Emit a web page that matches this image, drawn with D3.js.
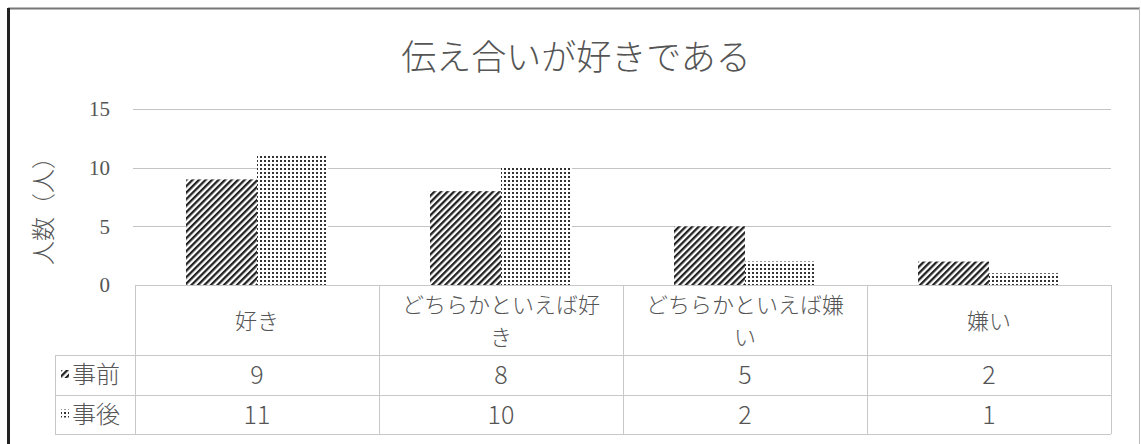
<!DOCTYPE html>
<html>
<head>
<meta charset="utf-8">
<script src="https://cdn.jsdelivr.net/npm/d3@7"></script>
<style>
  body { margin: 0; background: #fff; }
  svg { display: block; }
</style>
</head>
<body>
<svg id="chart" width="1141" height="444"></svg>
<script>
// data
const categories = ["好き", "どちらかといえば好き", "どちらかといえば嫌い", "嫌い"];
const seriesNames = ["事前", "事後"];
const before = [9, 8, 5, 2];
const after = [11, 10, 2, 1];
const yTicks = [0, 5, 10, 15];
const title = "伝え合いが好きである";
const yTitle = "人数（人）";

const svg = d3.select("#chart");
const jp = "'Noto Sans CJK JP', 'Noto Sans', sans-serif";
const ink = "#555";

// patterns
const defs = svg.append("defs");
const hatch = defs.append("pattern")
  .attr("id", "hatch").attr("patternUnits", "userSpaceOnUse")
  .attr("width", 4.6).attr("height", 4.6)
  .attr("patternTransform", "rotate(45)");
hatch.append("rect").attr("width", 4.6).attr("height", 4.6).attr("fill", "#fff");
hatch.append("rect").attr("width", 2.3).attr("height", 4.6).attr("fill", "#222");

const dots = defs.append("pattern")
  .attr("id", "dots").attr("patternUnits", "userSpaceOnUse")
  .attr("width", 4).attr("height", 4);
dots.append("rect").attr("width", 4).attr("height", 4).attr("fill", "#fff");
dots.append("rect").attr("width", 2).attr("height", 2).attr("fill", "#333");

const fills = ["url(#hatch)", "url(#dots)"];

// page frame
svg.append("rect").attr("width", 1141).attr("height", 444).attr("fill", "#fff");
svg.append("line").attr("x1", 8).attr("x2", 1140).attr("y1", 8.5).attr("y2", 8.5)
  .attr("stroke", "#777").attr("stroke-width", 2);
svg.append("line").attr("x1", 1139.5).attr("x2", 1139.5).attr("y1", 8).attr("y2", 444)
  .attr("stroke", "#bbb").attr("stroke-width", 1);
svg.append("line").attr("x1", 8.5).attr("x2", 8.5).attr("y1", 8).attr("y2", 444)
  .attr("stroke", "#222").attr("stroke-width", 3);

// title
svg.append("text")
  .attr("x", 576).attr("y", 70)
  .attr("text-anchor", "middle")
  .style("font-family", jp).style("font-weight", 300)
  .style("font-size", "35px").style("fill", ink)
  .text(title);

// scales
const x = d3.scaleBand().domain(categories).range([135, 1111]);
const x1 = d3.scaleBand().domain(seriesNames).range([51, 193]);
const y = d3.scaleLinear().domain([0, 15]).range([285, 109]);

// gridlines
svg.append("g").selectAll("line")
  .data(yTicks.filter(d => d > 0))
  .join("line")
  .attr("x1", 133).attr("x2", 1111)
  .attr("y1", d => Math.round(y(d)) + 0.5).attr("y2", d => Math.round(y(d)) + 0.5)
  .attr("stroke", "#c4c4c4").attr("stroke-width", 1);

// y axis labels
const yAxis = svg.append("g")
  .attr("transform", "translate(110,0)")
  .call(d3.axisLeft(y).tickValues(yTicks).tickSize(0).tickPadding(0));
yAxis.select(".domain").remove();
yAxis.selectAll("text")
  .style("font-family", "'Liberation Serif', 'DejaVu Serif', serif")
  .style("font-size", "21px").style("fill", ink);

svg.append("text")
  .attr("transform", "translate(52,205) rotate(-90)")
  .attr("text-anchor", "middle")
  .style("font-family", jp).style("font-weight", 300)
  .style("font-size", "24px").style("fill", ink)
  .text(yTitle);

// bars
const values = [before, after];
seriesNames.forEach((s, si) => {
  svg.append("g").selectAll("rect")
    .data(categories.map((c, i) => ({ c, v: values[si][i] })))
    .join("rect")
    .attr("x", d => x(d.c) + x1(s))
    .attr("width", x1.bandwidth())
    .attr("y", d => y(d.v))
    .attr("height", d => y(0) - y(d.v))
    .attr("fill", fills[si]);
});

// data table
const rowTop = [285, 355, 395, 434];
const tableLeft = 55;
const grid = svg.append("g").attr("stroke", "#c8c8c8").attr("stroke-width", 1).attr("fill", "none");
grid.append("line").attr("x1", 135).attr("x2", 1111).attr("y1", rowTop[0] + 0.5).attr("y2", rowTop[0] + 0.5);
rowTop.slice(1).forEach(r => {
  grid.append("line").attr("x1", tableLeft).attr("x2", 1111).attr("y1", r + 0.5).attr("y2", r + 0.5);
});
grid.append("line").attr("x1", tableLeft + 0.5).attr("x2", tableLeft + 0.5).attr("y1", rowTop[1]).attr("y2", rowTop[3]);
categories.forEach(c => {
  grid.append("line").attr("x1", x(c) + 0.5).attr("x2", x(c) + 0.5).attr("y1", rowTop[0]).attr("y2", rowTop[3]);
});
grid.append("line").attr("x1", 1111.5).attr("x2", 1111.5).attr("y1", rowTop[0]).attr("y2", rowTop[3]);

// category labels, wrapped to the cell width
const catText = svg.append("g")
  .style("font-family", jp).style("font-weight", 300)
  .style("font-size", "22px").style("fill", ink);
categories.forEach(c => {
  const maxW = 212;
  const probe = catText.append("text").text(c);
  let lines = [c];
  if (probe.node().getComputedTextLength() > maxW) {
    let cur = "";
    lines = [];
    Array.from(c).forEach(ch => {
      probe.text(cur + ch);
      if (probe.node().getComputedTextLength() > maxW) {
        lines.push(cur);
        cur = ch;
      } else cur += ch;
    });
    lines.push(cur);
  }
  probe.remove();
  const cy = (rowTop[0] + rowTop[1]) / 2;
  const lh = 32;
  lines.forEach((ln, i) => {
    catText.append("text")
      .attr("text-anchor", "middle")
      .attr("x", x(c) + x.bandwidth() / 2)
      .attr("y", cy + 9 + (i - (lines.length - 1) / 2) * lh)
      .text(ln);
  });
});

// series rows
seriesNames.forEach((s, si) => {
  const cy = (rowTop[si + 1] + rowTop[si + 2]) / 2;
  svg.append("rect")
    .attr("x", 61).attr("y", cy - 5).attr("width", 8).attr("height", 8)
    .attr("fill", fills[si]);
  svg.append("text")
    .attr("x", 72).attr("y", cy + 8)
    .style("font-family", jp).style("font-weight", 300)
    .style("font-size", "24px").style("fill", ink)
    .text(s);
  svg.append("g").selectAll("text")
    .data(categories.map((c, i) => ({ c, v: values[si][i] })))
    .join("text")
    .attr("x", d => x(d.c) + x.bandwidth() / 2)
    .attr("y", cy + 9)
    .attr("text-anchor", "middle")
    .style("font-family", jp).style("font-weight", 300)
    .style("font-size", "25px").style("fill", ink)
    .text(d => d.v);
});
</script>
</body>
</html>
